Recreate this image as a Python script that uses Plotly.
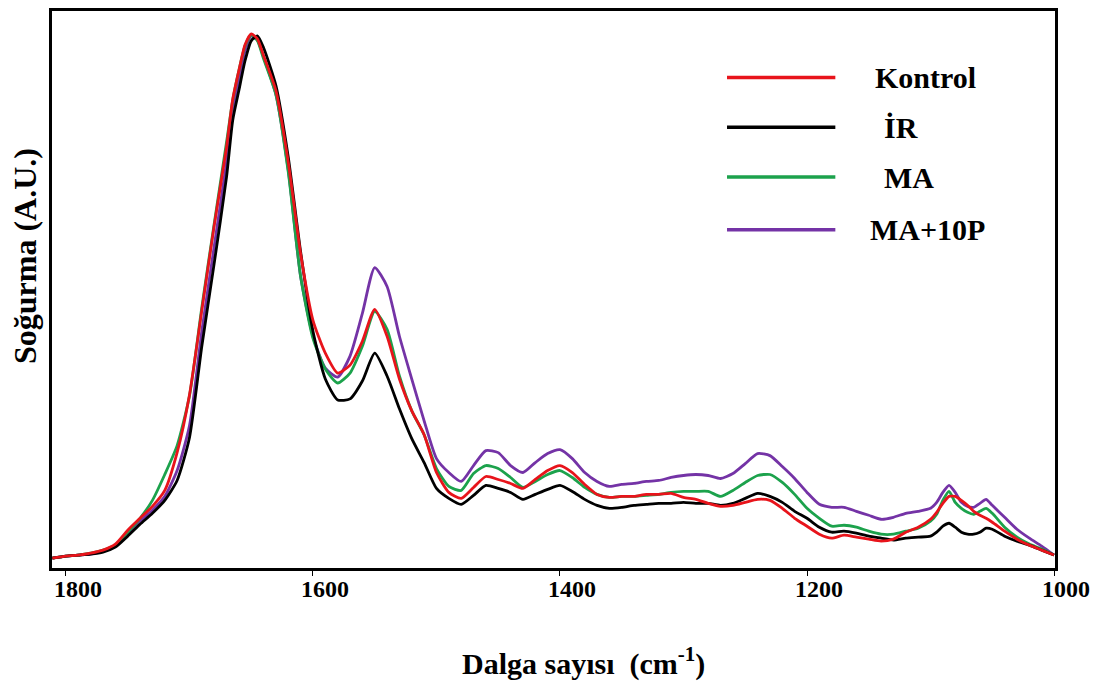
import plotly.graph_objects as go

# Wavenumber grid (cm^-1)
wavenumber = [1811, 1800, 1790, 1780, 1770, 1760, 1750, 1740, 1730, 1720,
              1710, 1700, 1690, 1680, 1670, 1665, 1660, 1655, 1650, 1645,
              1640, 1630, 1620, 1610, 1600, 1590, 1580, 1570, 1560, 1550,
              1540, 1530, 1520, 1510, 1500, 1490, 1480, 1470, 1460, 1450,
              1440, 1430, 1420, 1410, 1400, 1390, 1380, 1370, 1360, 1350,
              1340, 1330, 1320, 1310, 1300, 1290, 1280, 1270, 1260, 1250,
              1240, 1230, 1220, 1210, 1200, 1190, 1180, 1170, 1160, 1150,
              1140, 1130, 1120, 1110, 1100, 1095, 1090, 1085, 1080, 1075,
              1070, 1065, 1060, 1055, 1050, 1040, 1030, 1020, 1010, 1000]

kontrol = [0.004, 0.008, 0.010, 0.014, 0.020, 0.032, 0.060, 0.084, 0.108, 0.140,
           0.216, 0.332, 0.502, 0.672, 0.830, 0.926, 0.984, 1.036, 1.058, 1.048,
           1.014, 0.944, 0.800, 0.616, 0.482, 0.416, 0.376, 0.392, 0.440, 0.504,
           0.450, 0.364, 0.300, 0.252, 0.176, 0.136, 0.124, 0.146, 0.168, 0.162,
           0.154, 0.144, 0.162, 0.180, 0.190, 0.176, 0.152, 0.132, 0.126, 0.128,
           0.128, 0.132, 0.132, 0.134, 0.126, 0.122, 0.114, 0.108, 0.110, 0.116,
           0.122, 0.120, 0.104, 0.084, 0.068, 0.052, 0.044, 0.050, 0.046, 0.042,
           0.038, 0.042, 0.056, 0.066, 0.082, 0.096, 0.114, 0.128, 0.128, 0.120,
           0.110, 0.098, 0.090, 0.084, 0.076, 0.058, 0.042, 0.030, 0.020, 0.010]

ir = [0.004, 0.008, 0.010, 0.012, 0.016, 0.026, 0.048, 0.072, 0.094, 0.120,
      0.160, 0.246, 0.430, 0.596, 0.770, 0.884, 0.944, 1.004, 1.044, 1.054,
      1.030, 0.954, 0.810, 0.620, 0.460, 0.364, 0.322, 0.324, 0.360, 0.416,
      0.370, 0.304, 0.244, 0.196, 0.144, 0.124, 0.112, 0.130, 0.150, 0.144,
      0.136, 0.122, 0.132, 0.142, 0.150, 0.138, 0.122, 0.110, 0.104, 0.106,
      0.110, 0.112, 0.114, 0.114, 0.116, 0.114, 0.114, 0.110, 0.114, 0.124,
      0.134, 0.128, 0.116, 0.098, 0.084, 0.066, 0.056, 0.058, 0.054, 0.048,
      0.044, 0.040, 0.044, 0.046, 0.048, 0.056, 0.068, 0.074, 0.066, 0.056,
      0.052, 0.052, 0.056, 0.064, 0.062, 0.048, 0.038, 0.030, 0.020, 0.010]

ma = [0.004, 0.008, 0.010, 0.014, 0.020, 0.030, 0.056, 0.084, 0.120, 0.172,
      0.230, 0.330, 0.508, 0.676, 0.840, 0.924, 0.984, 1.034, 1.056, 1.044,
      1.008, 0.936, 0.780, 0.570, 0.446, 0.384, 0.356, 0.376, 0.430, 0.500,
      0.464, 0.370, 0.300, 0.252, 0.184, 0.148, 0.140, 0.174, 0.190, 0.184,
      0.166, 0.146, 0.158, 0.172, 0.180, 0.166, 0.146, 0.132, 0.126, 0.128,
      0.128, 0.130, 0.132, 0.136, 0.138, 0.138, 0.138, 0.128, 0.140, 0.156,
      0.170, 0.172, 0.156, 0.132, 0.104, 0.084, 0.068, 0.070, 0.066, 0.058,
      0.052, 0.052, 0.058, 0.064, 0.078, 0.092, 0.120, 0.138, 0.116, 0.104,
      0.096, 0.092, 0.098, 0.104, 0.094, 0.066, 0.046, 0.032, 0.022, 0.010]

ma10p = [0.004, 0.008, 0.010, 0.012, 0.018, 0.028, 0.054, 0.078, 0.100, 0.128,
         0.180, 0.270, 0.460, 0.630, 0.800, 0.900, 0.964, 1.024, 1.054, 1.046,
         1.012, 0.936, 0.784, 0.570, 0.450, 0.386, 0.368, 0.410, 0.496, 0.588,
         0.550, 0.450, 0.364, 0.280, 0.204, 0.176, 0.158, 0.190, 0.220, 0.216,
         0.190, 0.176, 0.196, 0.214, 0.222, 0.204, 0.176, 0.158, 0.148, 0.152,
         0.154, 0.158, 0.160, 0.166, 0.170, 0.172, 0.170, 0.164, 0.174, 0.194,
         0.214, 0.210, 0.188, 0.164, 0.136, 0.112, 0.106, 0.106, 0.098, 0.090,
         0.082, 0.086, 0.094, 0.098, 0.104, 0.116, 0.136, 0.150, 0.136, 0.116,
         0.108, 0.106, 0.114, 0.122, 0.110, 0.086, 0.062, 0.044, 0.028, 0.010]

series_names = ["Kontrol", "İR", "MA", "MA+10P"]
series_values = [kontrol, ir, ma, ma10p]
series_colors = ["#e8141b", "#000000", "#1ca24c", "#7433a6"]

x_ticks = [1800, 1600, 1400, 1200, 1000]

FONT = "Liberation Serif"

fig = go.Figure()
# draw in an order so that red sits on top
draw_order = [3, 2, 1, 0]
for i in draw_order:
    fig.add_trace(go.Scatter(
        x=wavenumber, y=series_values[i], mode="lines", name=series_names[i],
        line=dict(color=series_colors[i], width=2.8, shape="spline", smoothing=0.6),
        showlegend=False,
    ))

# custom legend (long line samples as in the reference)
leg_y = [0.8804, 0.7911, 0.7018, 0.6071]
leg_tx = [0.8185, 0.8275, 0.8275, 0.8136]
for i in range(4):
    fig.add_shape(type="line", xref="paper", yref="paper",
                  x0=0.673, x1=0.781, y0=leg_y[i], y1=leg_y[i],
                  line=dict(color=series_colors[i], width=3.5))
    fig.add_annotation(xref="paper", yref="paper", x=leg_tx[i], y=leg_y[i],
                       text="<b>%s</b>" % series_names[i], showarrow=False,
                       xanchor="left", yanchor="middle",
                       font=dict(family=FONT, size=30, color="black"))

# axis titles
fig.add_annotation(xref="paper", yref="paper", x=0.53, y=-0.168,
                   text="<b>Dalga sayısı  (cm<sup>-1</sup>)</b>", showarrow=False,
                   xanchor="center", yanchor="middle",
                   font=dict(family=FONT, size=30, color="black"))
fig.add_annotation(xref="paper", yref="paper", x=-0.027, y=0.56,
                   text="<b>Soğurma (A.U.)</b>", showarrow=False, textangle=-90,
                   xanchor="center", yanchor="middle",
                   font=dict(family=FONT, size=32, color="black"))

fig.update_layout(
    width=1095, height=678,
    margin=dict(l=44, r=48, t=0, b=118),
    paper_bgcolor="white", plot_bgcolor="white",
    xaxis=dict(range=[1811.3, 999.2], tickvals=x_ticks,
               ticktext=["<b>%d</b>" % t for t in x_ticks],
               ticks="outside", ticklen=5, tickwidth=1, tickcolor="black",
               showline=True, linecolor="black", linewidth=3, mirror=True,
               showgrid=False, zeroline=False, ticklabelshift=-12,
               ticklabelstandoff=-8,
               tickfont=dict(family=FONT, size=24, color="black")),
    yaxis=dict(range=[-0.016, 1.104], showticklabels=False, ticks="",
               showline=True, linecolor="black", linewidth=3, mirror=True,
               showgrid=False, zeroline=False),
)

fig.write_html("out.html")
